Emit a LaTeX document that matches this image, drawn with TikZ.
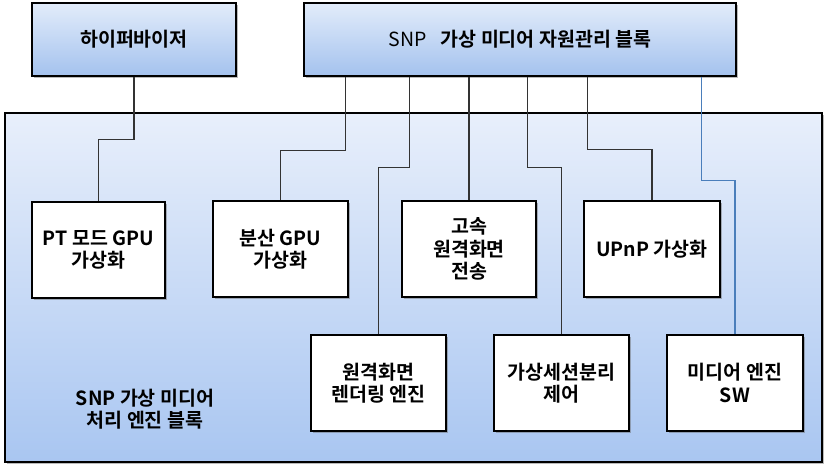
\documentclass[tikz,border=0pt]{standalone}
\usepackage{fontspec}
\setmainfont{Noto Sans CJK KR}[BoldFont=* Bold]
\usetikzlibrary{shadows}
\definecolor{lineg}{HTML}{333333}
\definecolor{lineb}{HTML}{4A7EBB}
\definecolor{topA}{HTML}{E2ECFA}
\definecolor{botA}{HTML}{A4C2EE}
\definecolor{topB}{HTML}{E8EFFB}
\definecolor{botB}{HTML}{A9C6F1}
\begin{document}
\begin{tikzpicture}[x=1pt,y=-1pt,
  base/.style={draw=black, line width=1.1pt, font=\fontsize{19.5}{22.5}\selectfont\bfseries, align=center, inner sep=0pt,
    drop shadow={shadow xshift=1.5pt, shadow yshift=-1.5pt, opacity=0.45, fill=black!60}},
  hdrbox/.style={base, top color=topA, bottom color=botA},
  blockbox/.style={base, top color=topB, bottom color=botB},
  funcbox/.style={base, fill=white, minimum height=96pt},
  lbl/.style={font=\fontsize{19.5}{22.5}\selectfont\bfseries, align=center, inner sep=0pt},
  conn/.style={draw=lineg, line width=1.3pt},
  connb/.style={draw=lineb, line width=1.4pt}]
\useasboundingbox (0,0) rectangle (828,469);

\node[blockbox, minimum width=817pt, minimum height=349pt] (eng) at (413.5,287.5) {};
\node[lbl] (englbl) at (145,409) {SNP 가상 미디어\\처리 엔진 블록};

\node[hdrbox, minimum width=204pt, minimum height=73pt] (hyp) at (134,39.5) {하이퍼바이저};
\node[hdrbox, minimum width=432pt, minimum height=73pt] (snp) at (520,39.5) {{\mdseries SNP}\hspace{14pt}가상 미디어 자원관리 블록};

\node[funcbox, minimum width=133pt] (pt) at (98.5,250) {PT 모드 GPU\\가상화};
\node[funcbox, minimum width=135pt] (dist) at (280.5,249) {분산 GPU\\가상화};
\node[funcbox, minimum width=134pt] (fast) at (469,249) {고속\\원격화면\\전송};
\node[funcbox, minimum width=136pt] (upnp) at (652,249) {UPnP 가상화};
\node[funcbox, minimum width=135pt] (rend) at (378.5,383) {원격화면\\렌더링 엔진};
\node[funcbox, minimum width=135pt] (sess) at (561.5,383) {가상세션분리\\제어};
\node[funcbox, minimum width=136pt] (media) at (735,383) {미디어 엔진\\SW};

\draw[conn] (hyp.south) -- ++(0,63) -| (pt.north);
\draw[conn] ([xshift=42pt]snp.south west) -- ++(0,74) -| (dist.north);
\draw[conn] ([xshift=106pt]snp.south west) -- ++(0,91) -| (rend.north);
\draw[conn] (snp.south -| fast.north) -- (fast.north);
\draw[conn] ([xshift=224pt]snp.south west) -- ++(0,91) -| (sess.north);
\draw[conn] ([xshift=284pt]snp.south west) -- ++(0,73) -| (upnp.north);
\draw[connb] ([xshift=398pt]snp.south west) -- ++(0,104) -| (media.north);
\end{tikzpicture}
\end{document}
